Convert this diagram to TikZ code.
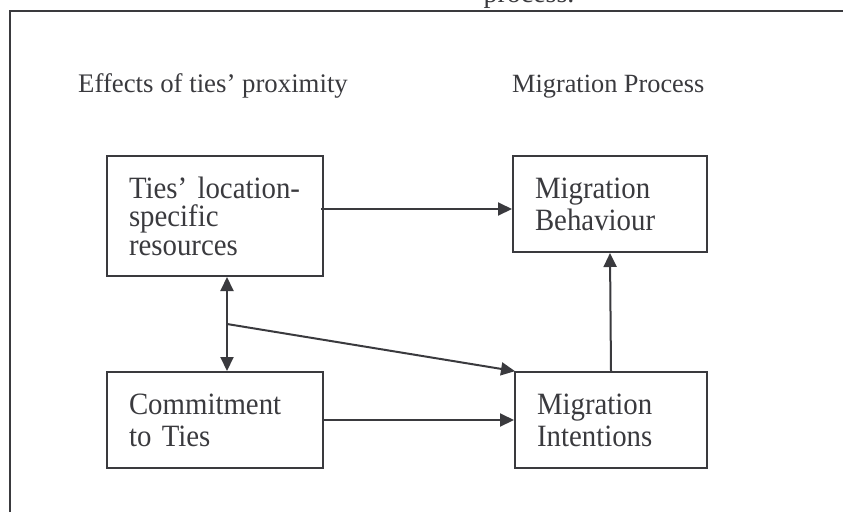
\documentclass[tikz,border=0pt]{standalone}
\usepackage{fontspec}
\setmainfont{Liberation Serif}
\newfontfamily\narrowfont[FakeStretch=0.93]{Liberation Serif}
\usetikzlibrary{arrows.meta}
\definecolor{ink}{HTML}{3A3A3E}
\tikzset{
  x=1pt, y=-1pt,
  box/.style={draw=ink, line width=2pt, rectangle, align=left, inner xsep=22pt, inner ysep=0pt,
    text=ink, font=\narrowfont\fontsize{31}{32}\selectfont},
  hdr/.style={anchor=base west, inner sep=0pt, text=ink, font=\fontsize{26.3}{30}\selectfont},
  conn/.style={draw=ink, line width=2pt, -{Triangle[length=14pt,width=13pt]}},
  dconn/.style={draw=ink, line width=2pt, {Triangle[length=14pt,width=13pt]}-{Triangle[length=14pt,width=13pt]}}
}
\begin{document}
\begin{tikzpicture}
\useasboundingbox (0,0) rectangle (843,512);
% outer frame (open on right and bottom)
\draw[ink, line width=2pt] (10,512) -- (10,11) -- (843,11);
% cut-off caption at top
\node[hdr, anchor=base, font=\fontsize{28}{30}\selectfont] (cap) at (529,2) {process.};
% column headings
\node[hdr, font=\fontsize{26.8}{30}\selectfont] (h1) at (78,92) {Effects of ties’ proximity};
\node[hdr] (h2) at (512,92) {Migration Process};
% boxes
\node[box, text width=172pt, minimum height=120pt, font=\narrowfont\fontsize{31}{28.5}\selectfont] (res) at (215,216) {Ties’ location-\\specific\\resources};
\node[box, text width=150pt, minimum height=96pt] (beh) at (610,204) {Migration\\Behaviour};
\node[box, text width=172pt, minimum height=96pt] (com) at (215,420) {Commitment\\to Ties};
\node[box, text width=148pt, minimum height=96pt] (int) at (611,420) {Migration\\Intentions};
% helper coordinates
\coordinate (j) at (227,324);
\coordinate (rs) at (321,209);
% connectors
\draw[conn] (rs) -- (rs -| beh.west);
\draw[dconn] (res.south -| j) -- (com.north -| j);
\draw[conn, shorten >=-1pt] (j) -- (int.north west);
\draw[conn] (com.east) -- (int.west);
\draw[conn] (int.north) -- (beh.south);
\end{tikzpicture}
\end{document}
